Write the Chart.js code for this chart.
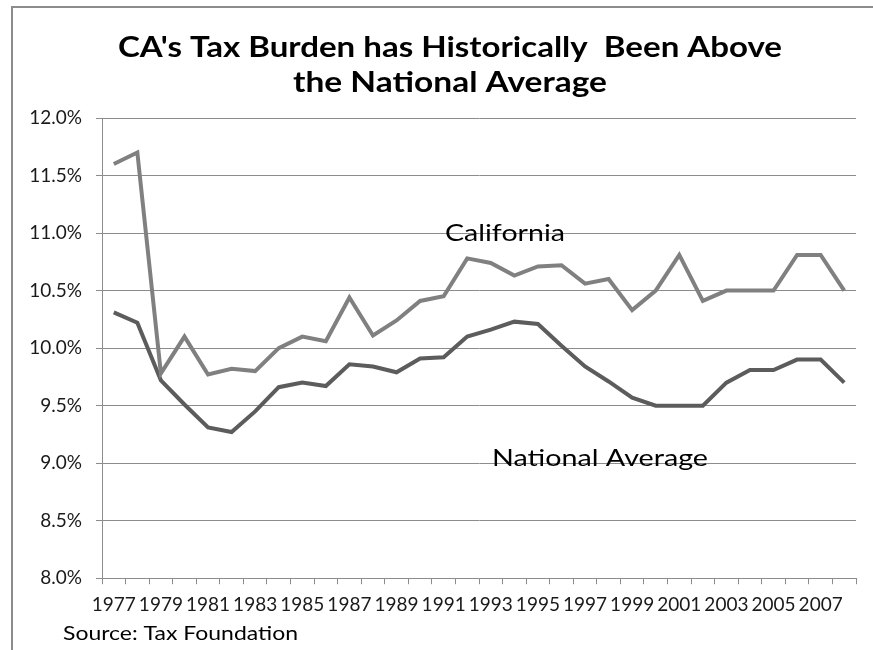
<!DOCTYPE html>
<html>
<head>
<meta charset="utf-8">
<script src="https://cdn.jsdelivr.net/npm/chart.js@4.4.1/dist/chart.umd.min.js"></script>
<style>
html,body{margin:0;padding:0;background:#fff;}
#wrap{position:relative;width:873px;height:650px;}
</style>
</head>
<body>
<div id="wrap"><canvas id="c" width="873" height="650"></canvas></div>
<script>
const years = [1977,1978,1979,1980,1981,1982,1983,1984,1985,1986,1987,1988,1989,1990,1991,1992,
               1993,1994,1995,1996,1997,1998,1999,2000,2001,2002,2003,2004,2005,2006,2007,2008];
const california = [11.60,11.70,9.78,10.10,9.77,9.82,9.80,10.00,10.10,10.06,10.44,10.11,10.24,10.41,10.45,10.78,
                    10.74,10.63,10.71,10.72,10.56,10.60,10.33,10.50,10.81,10.41,10.50,10.50,10.50,10.81,10.81,10.50];
const national = [10.31,10.22,9.72,9.51,9.31,9.27,9.45,9.66,9.70,9.67,9.86,9.84,9.79,9.91,9.92,10.10,
                  10.16,10.23,10.21,10.02,9.84,9.71,9.57,9.50,9.50,9.50,9.70,9.81,9.81,9.90,9.90,9.70];
const titleLines = ["CA's Tax Burden has Historically  Been Above", "the National Average"];
const sourceText = "Source: Tax Foundation";
const seriesNames = ["California", "National Average"];

const FONT = "Lato";

function stretchedText(ctx, text, x, y, targetWidth) {
  const w = ctx.measureText(text).width;
  const s = targetWidth / w;
  ctx.save();
  ctx.translate(x, y);
  ctx.scale(s, 1);
  ctx.fillText(text, 0, 0);
  ctx.restore();
}

const decor = {
  id: 'decor',
  afterDraw(chart) {
    const ctx = chart.ctx;
    ctx.save();
    // frame
    ctx.strokeStyle = '#8c8c8c';
    ctx.lineWidth = 2;
    ctx.beginPath();
    ctx.moveTo(12, 650);
    ctx.lineTo(12, 7);
    ctx.lineTo(873, 7);
    ctx.stroke();
    // title
    ctx.fillStyle = '#000';
    ctx.textAlign = 'center';
    ctx.textBaseline = 'middle';
    ctx.font = 'bold 29px ' + FONT;
    stretchedText(ctx, titleLines[0], 450, 48, 664);
    stretchedText(ctx, titleLines[1], 450, 83, 314);
    // series labels
    ctx.font = '24px ' + FONT;
    ctx.textAlign = 'left';
    stretchedText(ctx, seriesNames[0], 445, 233, 120);
    stretchedText(ctx, seriesNames[1], 492, 458, 216);
    // source
    ctx.font = '20px ' + FONT;
    stretchedText(ctx, sourceText, 63, 634, 235);
    ctx.restore();
  }
};

new Chart(document.getElementById('c'), {
  type: 'line',
  data: {
    labels: years.map(String),
    datasets: [
      { label: seriesNames[0], data: california, borderColor: '#808080', borderWidth: 4,
        pointRadius: 0, tension: 0, fill: false },
      { label: seriesNames[1], data: national, borderColor: '#5c5c5c', borderWidth: 4,
        pointRadius: 0, tension: 0, fill: false }
    ]
  },
  options: {
    responsive: false,
    animation: false,
    layout: { padding: { top: 118, right: 17, bottom: 25, left: 0 } },
    plugins: { legend: { display: false }, tooltip: { enabled: false }, title: { display: false } },
    scales: {
      x: {
        offset: true,
        grid: { offset: true, drawOnChartArea: false, drawTicks: true, tickLength: 6, color: '#8c8c8c' },
        border: { color: '#8c8c8c', width: 1 },
        ticks: {
          autoSkip: false, maxRotation: 0, minRotation: 0, padding: 9,
          color: '#1a1a1a', font: { family: FONT, size: 19 },
          callback: function(v, i) { return i % 2 === 0 ? years[i] : ''; }
        }
      },
      y: {
        min: 8, max: 12,
        afterFit(scale) { scale.width = 102; },
        grid: { color: '#8c8c8c', lineWidth: 1, tickLength: 6, drawTicks: true },
        border: { color: '#8c8c8c', width: 1 },
        ticks: {
          stepSize: 0.5, padding: 14, color: '#1a1a1a', font: { family: FONT, size: 19 },
          callback: v => v.toFixed(1) + '%'
        }
      }
    }
  },
  plugins: [decor]
});
</script>
</body>
</html>
